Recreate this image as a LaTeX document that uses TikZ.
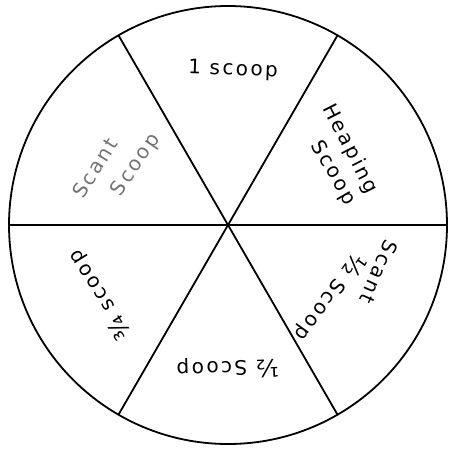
\documentclass[tikz,border=0pt]{standalone}
\usepackage{fontspec}
\setmainfont{DejaVu Sans}[LetterSpace=12]
\begin{document}
\begin{tikzpicture}[x=1pt,y=-1pt,
  lbl/.style={inner sep=0pt, font=\fontsize{20}{24}\selectfont},
  faint/.style={lbl, text=black!55},
  rim/.style={line width=1.8pt},
  spoke/.style={line width=1.8pt}]
\useasboundingbox (0,0) rectangle (454,450);
\fill[white] (0,0) rectangle (454,450);
\node[circle, draw, rim, minimum size=438pt, inner sep=0pt, outer sep=0pt] (C) at (228,225) {};
\draw[spoke] (C.0) -- (C.180);
\draw[spoke] (C.60) -- (C.240);
\draw[spoke] (C.120) -- (C.300);
\node[lbl, rotate=-2] (one) at (233,70) {1 scoop};
\node[lbl, rotate=-63] (heap1) at (350,149) {Heaping};
\node[lbl, rotate=-60] (heap2) at (333,173) {Scoop};
\node[lbl, rotate=246] (sh1) at (379,272) {Scant};
\node[lbl, rotate=234] (sh2) at (330,297) {\fontsize{24}{24}\selectfont ½\fontsize{20}{24}\selectfont{} Scoop};
\node[lbl, rotate=182] (half) at (228,368) {\fontsize{24}{24}\selectfont ½\fontsize{20}{24}\selectfont{} Scoop};
\node[lbl, rotate=122] (tq) at (100,295) {\fontsize{24}{24}\selectfont ¾\fontsize{20}{24}\selectfont{} scoop};
\node[faint, rotate=58] (sc1) at (95,168) {Scant};
\node[faint, rotate=56] (sc2) at (136,165) {Scoop};
\end{tikzpicture}
\end{document}
